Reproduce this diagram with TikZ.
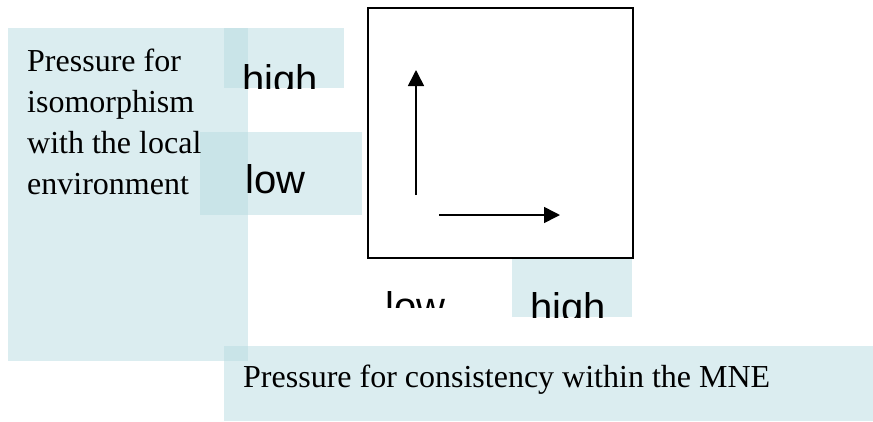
\documentclass[tikz,border=0pt]{standalone}
\usepackage{fontspec}
\setmainfont{Liberation Serif}
\newfontfamily\labelsans{Liberation Sans}
\usetikzlibrary{arrows.meta}
\definecolor{boxcyan}{RGB}{183,219,225}
\tikzset{
  panel/.style={fill=boxcyan, fill opacity=0.5, draw=none},
  seriftext/.style={font=\fontsize{32}{41}\selectfont, inner sep=0pt, text=black},
  sanstext/.style={font=\labelsans\fontsize{40}{46}\selectfont, inner sep=0pt, text=black},
  axisarrow/.style={line width=1.6pt, -{Triangle[length=16pt,width=16pt]}},
}
\begin{document}
\begin{tikzpicture}[x=1pt,y=-1pt]
\useasboundingbox (0,0) rectangle (873,421);
% panels
\path[panel] (8,28) rectangle (248,361);
\path[panel] (224,28) rectangle (344,88);
\path[panel] (200,132) rectangle (362,215);
\path[panel] (512,257) rectangle (632,317);
\path[panel] (224,346) rectangle (873,421);
% square
\node[draw=black, line width=2pt, minimum width=265pt, minimum height=250pt, inner sep=0pt, anchor=north west] (frame) at (367,7) {};
% arrows
\coordinate (vstart) at (416,195);
\coordinate (vend) at (416,70);
\coordinate (hstart) at (439,215);
\coordinate (hend) at (560,215);
\draw[axisarrow] (vstart) -- (vend);
\draw[axisarrow] (hstart) -- (hend);
% left text
\node[seriftext, anchor=north west, align=left] (ylabel) at (27,49) {Pressure for\\isomorphism\\with the local\\environment};
% bottom text
\node[seriftext, anchor=base west] (xlabel) at (243,387) {Pressure for consistency within the MNE};
% high / low labels (clipped by their boxes)
\begin{scope}
  \clip (224,28) rectangle (344,88);
  \node[sanstext, anchor=base west] (yhigh) at (242.2,93.6) {high};
\end{scope}
\node[sanstext, anchor=base west] (ylow) at (245.3,193) {low};
\begin{scope}
  \clip (370,260) rectangle (505,307);
  \node[sanstext, anchor=base west] (xlow) at (385.3,320.6) {low};
\end{scope}
\begin{scope}
  \clip (512,257) rectangle (632,317);
  \node[sanstext, anchor=base west] (xhigh) at (530.2,321.6) {high};
\end{scope}
\end{tikzpicture}
\end{document}
